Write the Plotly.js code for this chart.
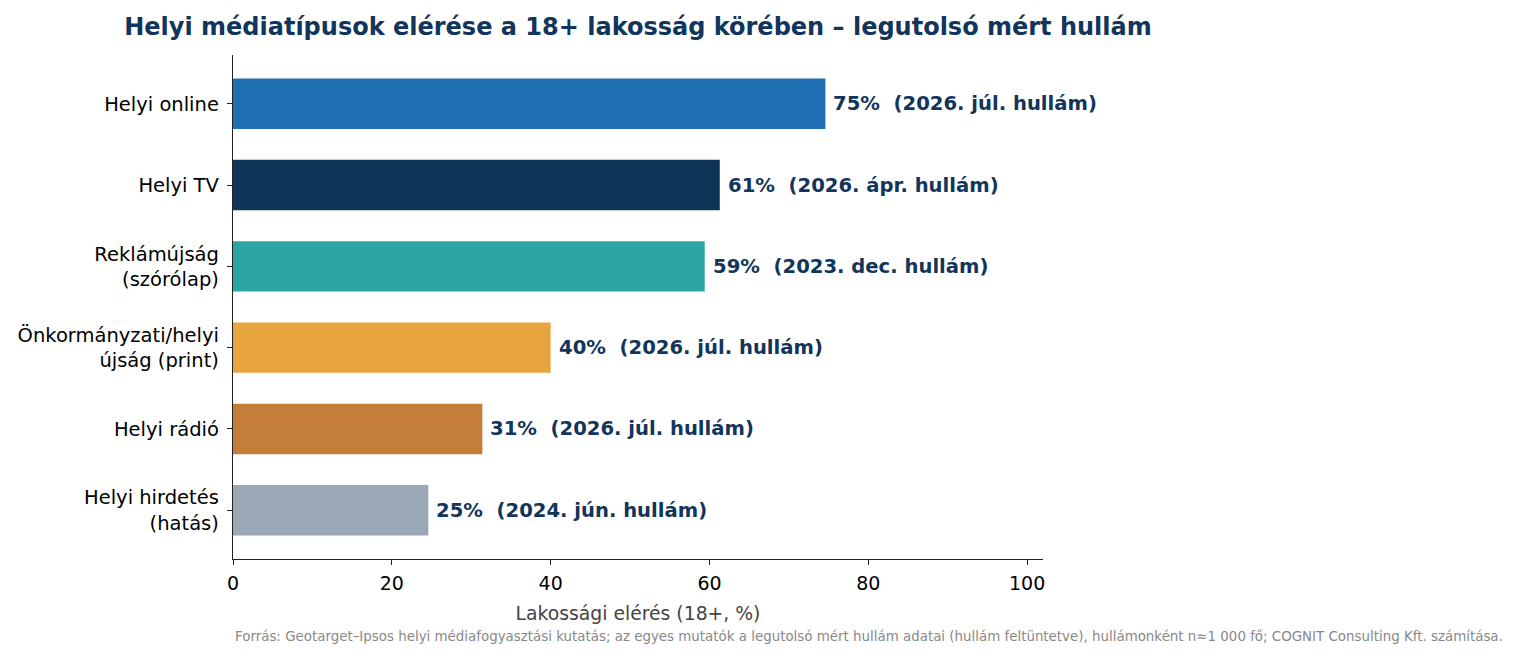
<!DOCTYPE html>
<html>
<head>
<meta charset="utf-8">
<script src="https://cdn.plot.ly/plotly-3.0.1.min.js"></script>
<style>html,body{margin:0;padding:0;background:#fff;}#chart{width:1520px;height:658px;}</style>
</head>
<body>
<div id="chart"></div>
<script>
const categories = ["Helyi online", "Helyi TV", "Reklámújság<br>(szórólap)", "Önkormányzati/helyi<br>újság (print)", "Helyi rádió", "Helyi hirdetés<br>(hatás)"];
const values = [74.6, 61.3, 59.4, 40.0, 31.4, 24.6];
const pctLabels = ["75%", "61%", "59%", "40%", "31%", "25%"];
const waves = ["2026. júl.", "2026. ápr.", "2023. dec.", "2026. júl.", "2026. júl.", "2024. jún."];
const colors = ["#2270b4", "#0f3559", "#2ca6a4", "#e8a43e", "#c57d3a", "#9aa7b4"];
const xTicks = [0, 20, 40, 60, 80, 100];

const navy = "#12355b";
const font = "DejaVu Sans, sans-serif";

const trace = {
  type: "bar",
  orientation: "h",
  x: values,
  y: categories,
  marker: {color: colors},
  width: 0.62,
  hoverinfo: "skip"
};

const annotations = categories.map((c, i) => ({
  x: values[i], y: c, xref: "x", yref: "y",
  text: "<b>" + pctLabels[i] + "  (" + waves[i] + " hullám)</b>",
  showarrow: false, xanchor: "left", yanchor: "middle", xshift: 6,
  font: {family: font, size: 19.6, color: navy}
}));
annotations.push({
  xref: "paper", yref: "paper", x: 0, y: -0.153, xanchor: "left", yanchor: "middle",
  text: "Forrás: Geotarget–Ipsos helyi médiafogyasztási kutatás; az egyes mutatók a legutolsó mért hullám adatai (hullám feltüntetve), hullámonként n≈1 000 fő; COGNIT Consulting Kft. számítása.",
  showarrow: false, font: {family: font, size: 13.4, color: "#888"}
});

const layout = {
  width: 1520, height: 658,
  margin: {l: 233, r: 477, t: 55, b: 99},
  paper_bgcolor: "#fff", plot_bgcolor: "#fff",
  font: {family: font, size: 19, color: "#000"},
  showlegend: false,
  title: {
    text: "<b>Helyi médiatípusok elérése a 18+ lakosság körében – legutolsó mért hullám</b>",
    x: 0.5, xref: "paper", xanchor: "center", y: 0.959, yref: "container", yanchor: "middle",
    font: {family: font, size: 24, color: navy}
  },
  xaxis: {
    range: [0, 102], tickvals: xTicks, ticktext: xTicks.map(String),
    showgrid: false, zeroline: false, showline: true, linecolor: "#222", linewidth: 1.2,
    ticks: "outside", ticklen: 5, tickcolor: "#222", tickwidth: 1, ticklabelstandoff: 2,
    tickfont: {family: font, size: 19, color: "#000"},
    title: {text: "Lakossági elérés (18+, %)", standoff: 13, font: {family: font, size: 18.8, color: "#444"}}
  },
  yaxis: {
    range: [5.6, -0.6], type: "category",
    showgrid: false, zeroline: false, showline: true, linecolor: "#222", linewidth: 1.2,
    ticks: "outside", ticklen: 5, tickcolor: "#222", tickwidth: 1, ticklabelstandoff: 4,
    tickfont: {family: font, size: 19.5, color: "#000"}
  },
  annotations: annotations
};

Plotly.newPlot("chart", [trace], layout, {displayModeBar: false, staticPlot: true});
</script>
</body>
</html>
